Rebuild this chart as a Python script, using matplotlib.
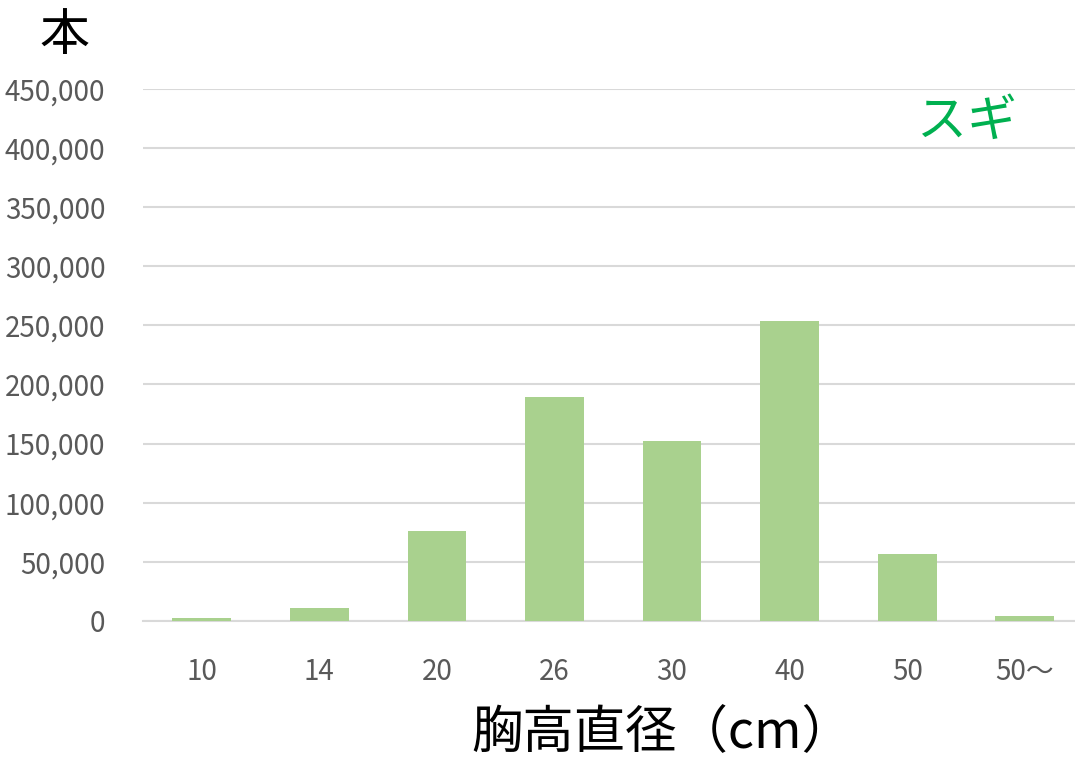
import matplotlib
matplotlib.use("Agg")
import matplotlib.pyplot as plt
from matplotlib.ticker import FuncFormatter

plt.rcParams['font.family'] = ['Noto Sans CJK JP', 'DejaVu Sans']

# diameter classes and tree counts
classes = ["10", "14", "20", "26", "30", "40", "50", "50～"]
counts = [2000, 11000, 76000, 189500, 152000, 253500, 56500, 4300]
yticks = [0, 50000, 100000, 150000, 200000, 250000, 300000, 350000, 400000, 450000]

fig = plt.figure(figsize=(10.75, 7.59), dpi=100)
ax = fig.add_axes([0.133, 0.182, 0.875, 0.701])

x = range(len(classes))
ax.bar(x, counts, width=0.5, color="#A9D18E", zorder=3)

ax.set_xlim(-0.5, len(classes) - 0.5)
ax.set_ylim(0, 450000)
ax.set_yticks(yticks)
ax.yaxis.set_major_formatter(FuncFormatter(lambda v, p: f"{int(v):,}"))
ax.set_xticks(list(x))
ax.set_xticklabels(classes)

ax.grid(axis="y", color="#D9D9D9", linewidth=1.5, zorder=0)
for s in ["top", "right", "left"]:
    ax.spines[s].set_visible(False)
ax.spines["bottom"].set_color("#D9D9D9")
ax.spines["bottom"].set_linewidth(1.5)
ax.tick_params(axis="both", length=0, labelsize=20, labelcolor="#595959")
ax.tick_params(axis="y", pad=27)
ax.tick_params(axis="x", pad=26)

fig.text(0.06, 0.952, "本", fontsize=36, ha="center", va="center")
fig.text(0.616, 0.034, "胸高直径（cm）", fontsize=37, ha="center", va="center")
fig.text(0.9, 0.84, "スギ", fontsize=36, color="#00B050", ha="center", va="center")

fig.savefig("out.png", dpi=100)
